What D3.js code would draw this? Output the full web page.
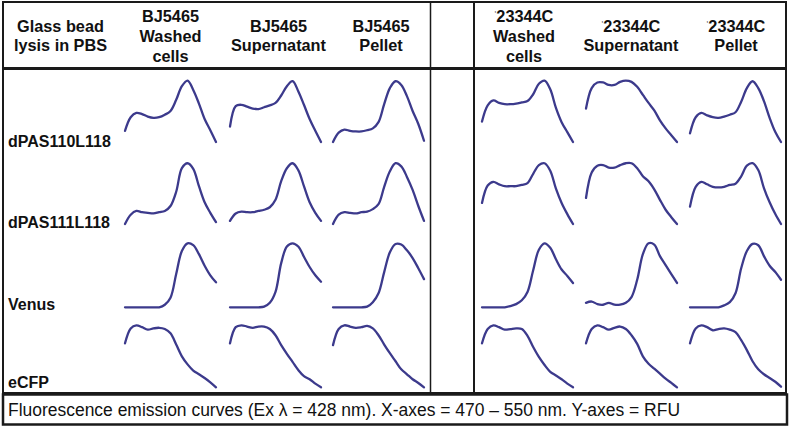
<!DOCTYPE html>
<html>
<head>
<meta charset="utf-8">
<script src="https://cdn.jsdelivr.net/npm/d3@7"></script>
<style>
  html, body { margin: 0; padding: 0; background: #fff; }
  svg { display: block; }
  text { font-family: "Liberation Sans", Arial, sans-serif; fill: #111; }
</style>
</head>
<body>
<svg id="chart" width="790" height="427"></svg>
<script>
// ---------------- DATA ----------------
const wavelengths = [470, 475, 480, 485, 490, 495, 500, 505, 510, 515, 520, 525, 530, 535, 540, 545, 550];

const rowLabels = ["dPAS110L118", "dPAS111L118", "Venus", "eCFP"];

const colHeaders = [
  ["BJ5465", "Washed", "cells"],
  ["BJ5465", "Supernatant"],
  ["BJ5465", "Pellet"],
  ["'23344C", "Washed", "cells"],
  ["'23344C", "Supernatant"],
  ["'23344C", "Pellet"]
];
const cornerHeader = ["Glass bead", "lysis in PBS"];
const footnote = "Fluorescence emission curves (Ex \u03BB = 428 nm). X-axes = 470 \u2013 550 nm. Y-axes = RFU";

// Relative fluorescence (normalized), one series per column
const dPAS110L118 = [
  [0.18, 0.40, 0.47, 0.45, 0.41, 0.39, 0.40, 0.44, 0.50, 0.68, 0.90, 0.99, 0.84, 0.62, 0.37, 0.19, 0.00],
  [0.25, 0.58, 0.60, 0.57, 0.54, 0.53, 0.56, 0.59, 0.63, 0.75, 0.90, 0.98, 0.82, 0.60, 0.37, 0.18, 0.00],
  [0.00, 0.15, 0.20, 0.18, 0.17, 0.17, 0.19, 0.22, 0.32, 0.61, 0.87, 0.98, 0.92, 0.74, 0.50, 0.29, 0.02],
  [0.33, 0.59, 0.67, 0.63, 0.61, 0.61, 0.62, 0.64, 0.66, 0.77, 0.94, 0.99, 0.85, 0.55, 0.32, 0.16, 0.00],
  [0.54, 0.87, 0.96, 0.96, 0.92, 0.92, 0.97, 0.99, 0.97, 0.89, 0.76, 0.63, 0.51, 0.35, 0.22, 0.11, 0.00],
  [0.14, 0.40, 0.47, 0.43, 0.40, 0.39, 0.41, 0.44, 0.48, 0.65, 0.87, 0.98, 0.87, 0.66, 0.39, 0.16, 0.00]
];
const dPAS111L118 = [
  [0.00, 0.15, 0.21, 0.19, 0.18, 0.17, 0.19, 0.21, 0.29, 0.52, 0.90, 0.98, 0.89, 0.61, 0.35, 0.18, 0.03],
  [0.05, 0.17, 0.20, 0.19, 0.19, 0.21, 0.23, 0.27, 0.39, 0.69, 0.90, 0.98, 0.87, 0.61, 0.35, 0.18, 0.05],
  [0.00, 0.15, 0.19, 0.18, 0.17, 0.19, 0.20, 0.24, 0.32, 0.60, 0.85, 0.98, 0.93, 0.76, 0.55, 0.29, 0.05],
  [0.34, 0.62, 0.68, 0.64, 0.61, 0.61, 0.61, 0.63, 0.66, 0.81, 0.95, 0.98, 0.86, 0.57, 0.34, 0.16, 0.00],
  [0.42, 0.83, 0.94, 0.95, 0.91, 0.91, 0.95, 0.98, 0.98, 0.90, 0.77, 0.69, 0.56, 0.39, 0.23, 0.11, 0.00],
  [0.28, 0.60, 0.68, 0.64, 0.60, 0.59, 0.60, 0.63, 0.65, 0.77, 0.94, 0.98, 0.87, 0.58, 0.35, 0.16, 0.00]
];
const Venus = [
  [0.00, 0.00, 0.00, 0.00, 0.00, 0.00, 0.00, 0.04, 0.15, 0.52, 0.88, 1.00, 0.97, 0.83, 0.65, 0.50, 0.39],
  [0.00, 0.00, 0.00, 0.00, 0.00, 0.00, 0.01, 0.07, 0.24, 0.69, 0.95, 1.00, 0.95, 0.79, 0.63, 0.50, 0.40],
  [0.00, 0.00, 0.00, 0.00, 0.00, 0.00, 0.01, 0.08, 0.22, 0.55, 0.86, 0.99, 0.98, 0.89, 0.77, 0.61, 0.44],
  [0.00, 0.00, 0.00, 0.00, 0.00, 0.02, 0.05, 0.11, 0.24, 0.58, 0.90, 1.00, 0.93, 0.75, 0.59, 0.49, 0.38],
  [0.07, 0.09, 0.05, 0.04, 0.07, 0.04, 0.04, 0.07, 0.16, 0.43, 0.83, 1.00, 0.98, 0.80, 0.66, 0.52, 0.38],
  [0.00, 0.00, 0.00, 0.00, 0.00, 0.00, 0.03, 0.08, 0.22, 0.61, 0.88, 0.99, 0.97, 0.80, 0.65, 0.55, 0.43]
];
const eCFP = [
  [0.71, 0.95, 1.00, 0.97, 0.93, 0.95, 0.96, 0.94, 0.87, 0.69, 0.50, 0.37, 0.27, 0.21, 0.15, 0.08, 0.00],
  [0.71, 0.97, 1.00, 0.98, 0.96, 0.98, 0.98, 0.94, 0.84, 0.68, 0.54, 0.41, 0.28, 0.18, 0.13, 0.06, 0.00],
  [0.68, 0.94, 1.00, 0.98, 0.96, 0.97, 0.99, 0.95, 0.84, 0.69, 0.55, 0.42, 0.29, 0.21, 0.13, 0.07, 0.00],
  [0.71, 0.94, 1.00, 0.97, 0.93, 0.94, 0.95, 0.94, 0.83, 0.65, 0.49, 0.36, 0.25, 0.19, 0.13, 0.06, 0.00],
  [0.71, 0.94, 1.00, 0.97, 0.93, 0.96, 0.98, 0.94, 0.84, 0.70, 0.50, 0.38, 0.30, 0.22, 0.14, 0.07, 0.00],
  [0.71, 0.95, 1.00, 0.97, 0.92, 0.94, 0.95, 0.93, 0.89, 0.76, 0.60, 0.42, 0.29, 0.21, 0.15, 0.09, 0.01]
];
const rowSeries = [dPAS110L118, dPAS111L118, Venus, eCFP];

// ---------------- LAYOUT ----------------
const svg = d3.select("#chart");
const lineColor = "#3c3a8c";
const frameColor = "#1a1a1a";

const colX = [125, 230, 333, 482, 586, 690];      // left edge of each mini plot
const plotW = 91;
const rowBottom = [142, 224, 307.3, 387.3];
const rowH = [62, 62, 64, 62];

const headerCenters = [170.5, 278.5, 381, 524, 631, 736];

const x = d3.scaleLinear().domain([470, 550]).range([0, plotW]);

// ---------------- FRAME ----------------
const frame = svg.append("g").attr("fill", "none").attr("stroke", frameColor);
frame.append("rect").attr("x", 3).attr("y", 2).attr("width", 783).attr("height", 391).attr("stroke-width", 2);
frame.append("line").attr("x1", 3).attr("x2", 786).attr("y1", 68.5).attr("y2", 68.5).attr("stroke-width", 3);
frame.append("line").attr("x1", 430.5).attr("x2", 430.5).attr("y1", 2).attr("y2", 393).attr("stroke-width", 1.5);
frame.append("line").attr("x1", 474).attr("x2", 474).attr("y1", 2).attr("y2", 393).attr("stroke-width", 2);
frame.append("rect").attr("x", 3).attr("y", 394.5).attr("width", 784).attr("height", 30).attr("stroke-width", 2.5);

// ---------------- HEADERS ----------------
const bold = "bold";
const hdr = svg.append("g").attr("font-size", 16.3).attr("font-weight", bold).attr("text-anchor", "middle");

function multiLine(g, lines, cx) {
  const baselines = lines.length === 3 ? [21.5, 42, 62] : [32, 51];
  lines.forEach((t, i) => {
    const tx = g.append("text").attr("x", cx).attr("y", baselines[i]);
    if (t.startsWith("'")) {
      tx.append("tspan").attr("font-size", 9).attr("font-weight", "normal").attr("fill", "#666").attr("dy", -5).text("'");
      tx.append("tspan").attr("dy", 5).text(t.slice(1));
    } else {
      tx.text(t);
    }
  });
}
multiLine(hdr, cornerHeader, 60.5);
colHeaders.forEach((h, i) => multiLine(hdr, h, headerCenters[i]));

// Row labels
const rowBaselines = [147, 228, 310, 388];
svg.append("g").attr("font-size", 16).attr("font-weight", bold)
  .selectAll("text").data(rowLabels).join("text")
  .attr("x", 8).attr("y", (d, i) => rowBaselines[i]).text(d => d);

// ---------------- CURVES ----------------
rowSeries.forEach((series, r) => {
  const y = d3.scaleLinear().domain([0, 1]).range([rowBottom[r], rowBottom[r] - rowH[r]]);
  series.forEach((vals, c) => {
    const line = d3.line()
      .x((d, i) => colX[c] + x(wavelengths[i]))
      .y(d => y(d))
      .curve(d3.curveCatmullRom.alpha(0.5));
    svg.append("path")
      .attr("d", line(vals))
      .attr("fill", "none")
      .attr("stroke", lineColor)
      .attr("stroke-width", 2.3)
      .attr("stroke-linejoin", "round")
      .attr("stroke-linecap", "round");
  });
});

// ---------------- FOOTNOTE ----------------
const ft = svg.append("text").attr("x", 8).attr("y", 416).attr("font-size", 17.5)
  .attr("textLength", 672).attr("lengthAdjust", "spacingAndGlyphs");
ft.text(footnote);
</script>
</body>
</html>
